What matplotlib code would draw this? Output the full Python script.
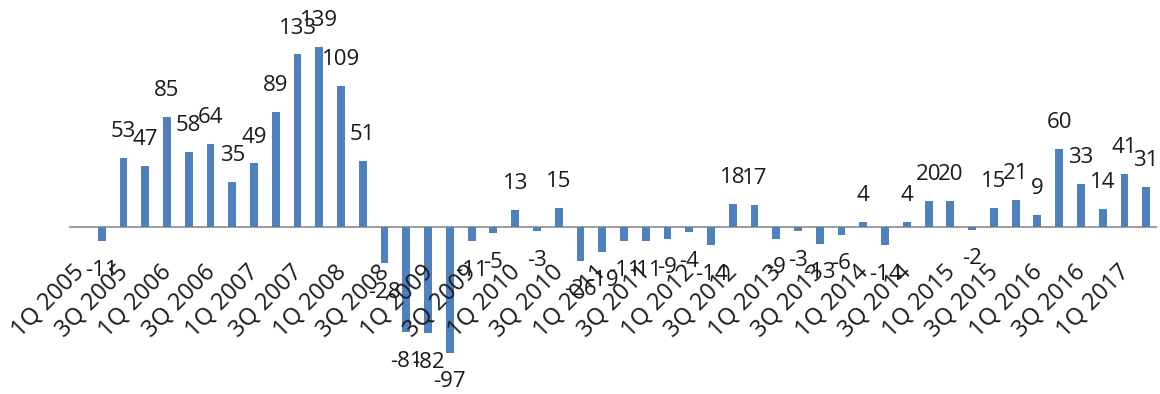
import numpy as np
import matplotlib
matplotlib.use("Agg")
import matplotlib.pyplot as plt

# Quarterly values, 1Q 2005 .. 2Q 2017 (1Q 2005 has no value)
quarters = [f"{q}Q {y}" for y in range(2005, 2018) for q in range(1, 5)][:50]
values = [np.nan, -11, 53, 47, 85, 58, 64, 35, 49, 89, 133, 139, 109, 51,
          -28, -81, -82, -97, -11, -5, 13, -3, 15, -26, -19, -11, -11, -9,
          -4, -14, 18, 17, -9, -3, -13, -6, 4, -14, 4, 20, 20, -2, 15, 21,
          9, 60, 33, 14, 41, 31]

plt.rcParams['font.family'] = ['Open Sans', 'DejaVu Sans']

fig = plt.figure(figsize=(11.6, 3.94), dpi=100)
ax = fig.add_axes([0.0595, 0.0, 0.938, 1.0])

x = np.arange(len(quarters))
vals = np.array(values, dtype=float)
ax.bar(x, np.nan_to_num(vals), width=0.36, color='#4F81BD', zorder=2)

ax.set_xlim(-0.5, len(quarters) - 0.5)
ax.set_ylim(-128.8, 175)
ax.axhline(0, color='#8C8C8C', linewidth=1.2, zorder=1)

for sp in ax.spines.values():
    sp.set_visible(False)
ax.set_xticks([])
ax.set_yticks([])

# data labels
for i, v in enumerate(vals):
    if np.isnan(v):
        continue
    off = 19 if v >= 0 else -21
    ax.annotate(f"{int(v)}", (i, v), xytext=(0, off), textcoords='offset points',
                ha='center', va='center', fontsize=16, color='#1A1A1A')

# category labels, every other quarter
for i in range(0, len(quarters), 2):
    ax.annotate(quarters[i], (i, 0), xytext=(-5, -24), textcoords='offset points',
                ha='right', va='top', rotation=45, rotation_mode='anchor',
                fontsize=17, color='#1A1A1A')

fig.savefig('out.png', dpi=100)
